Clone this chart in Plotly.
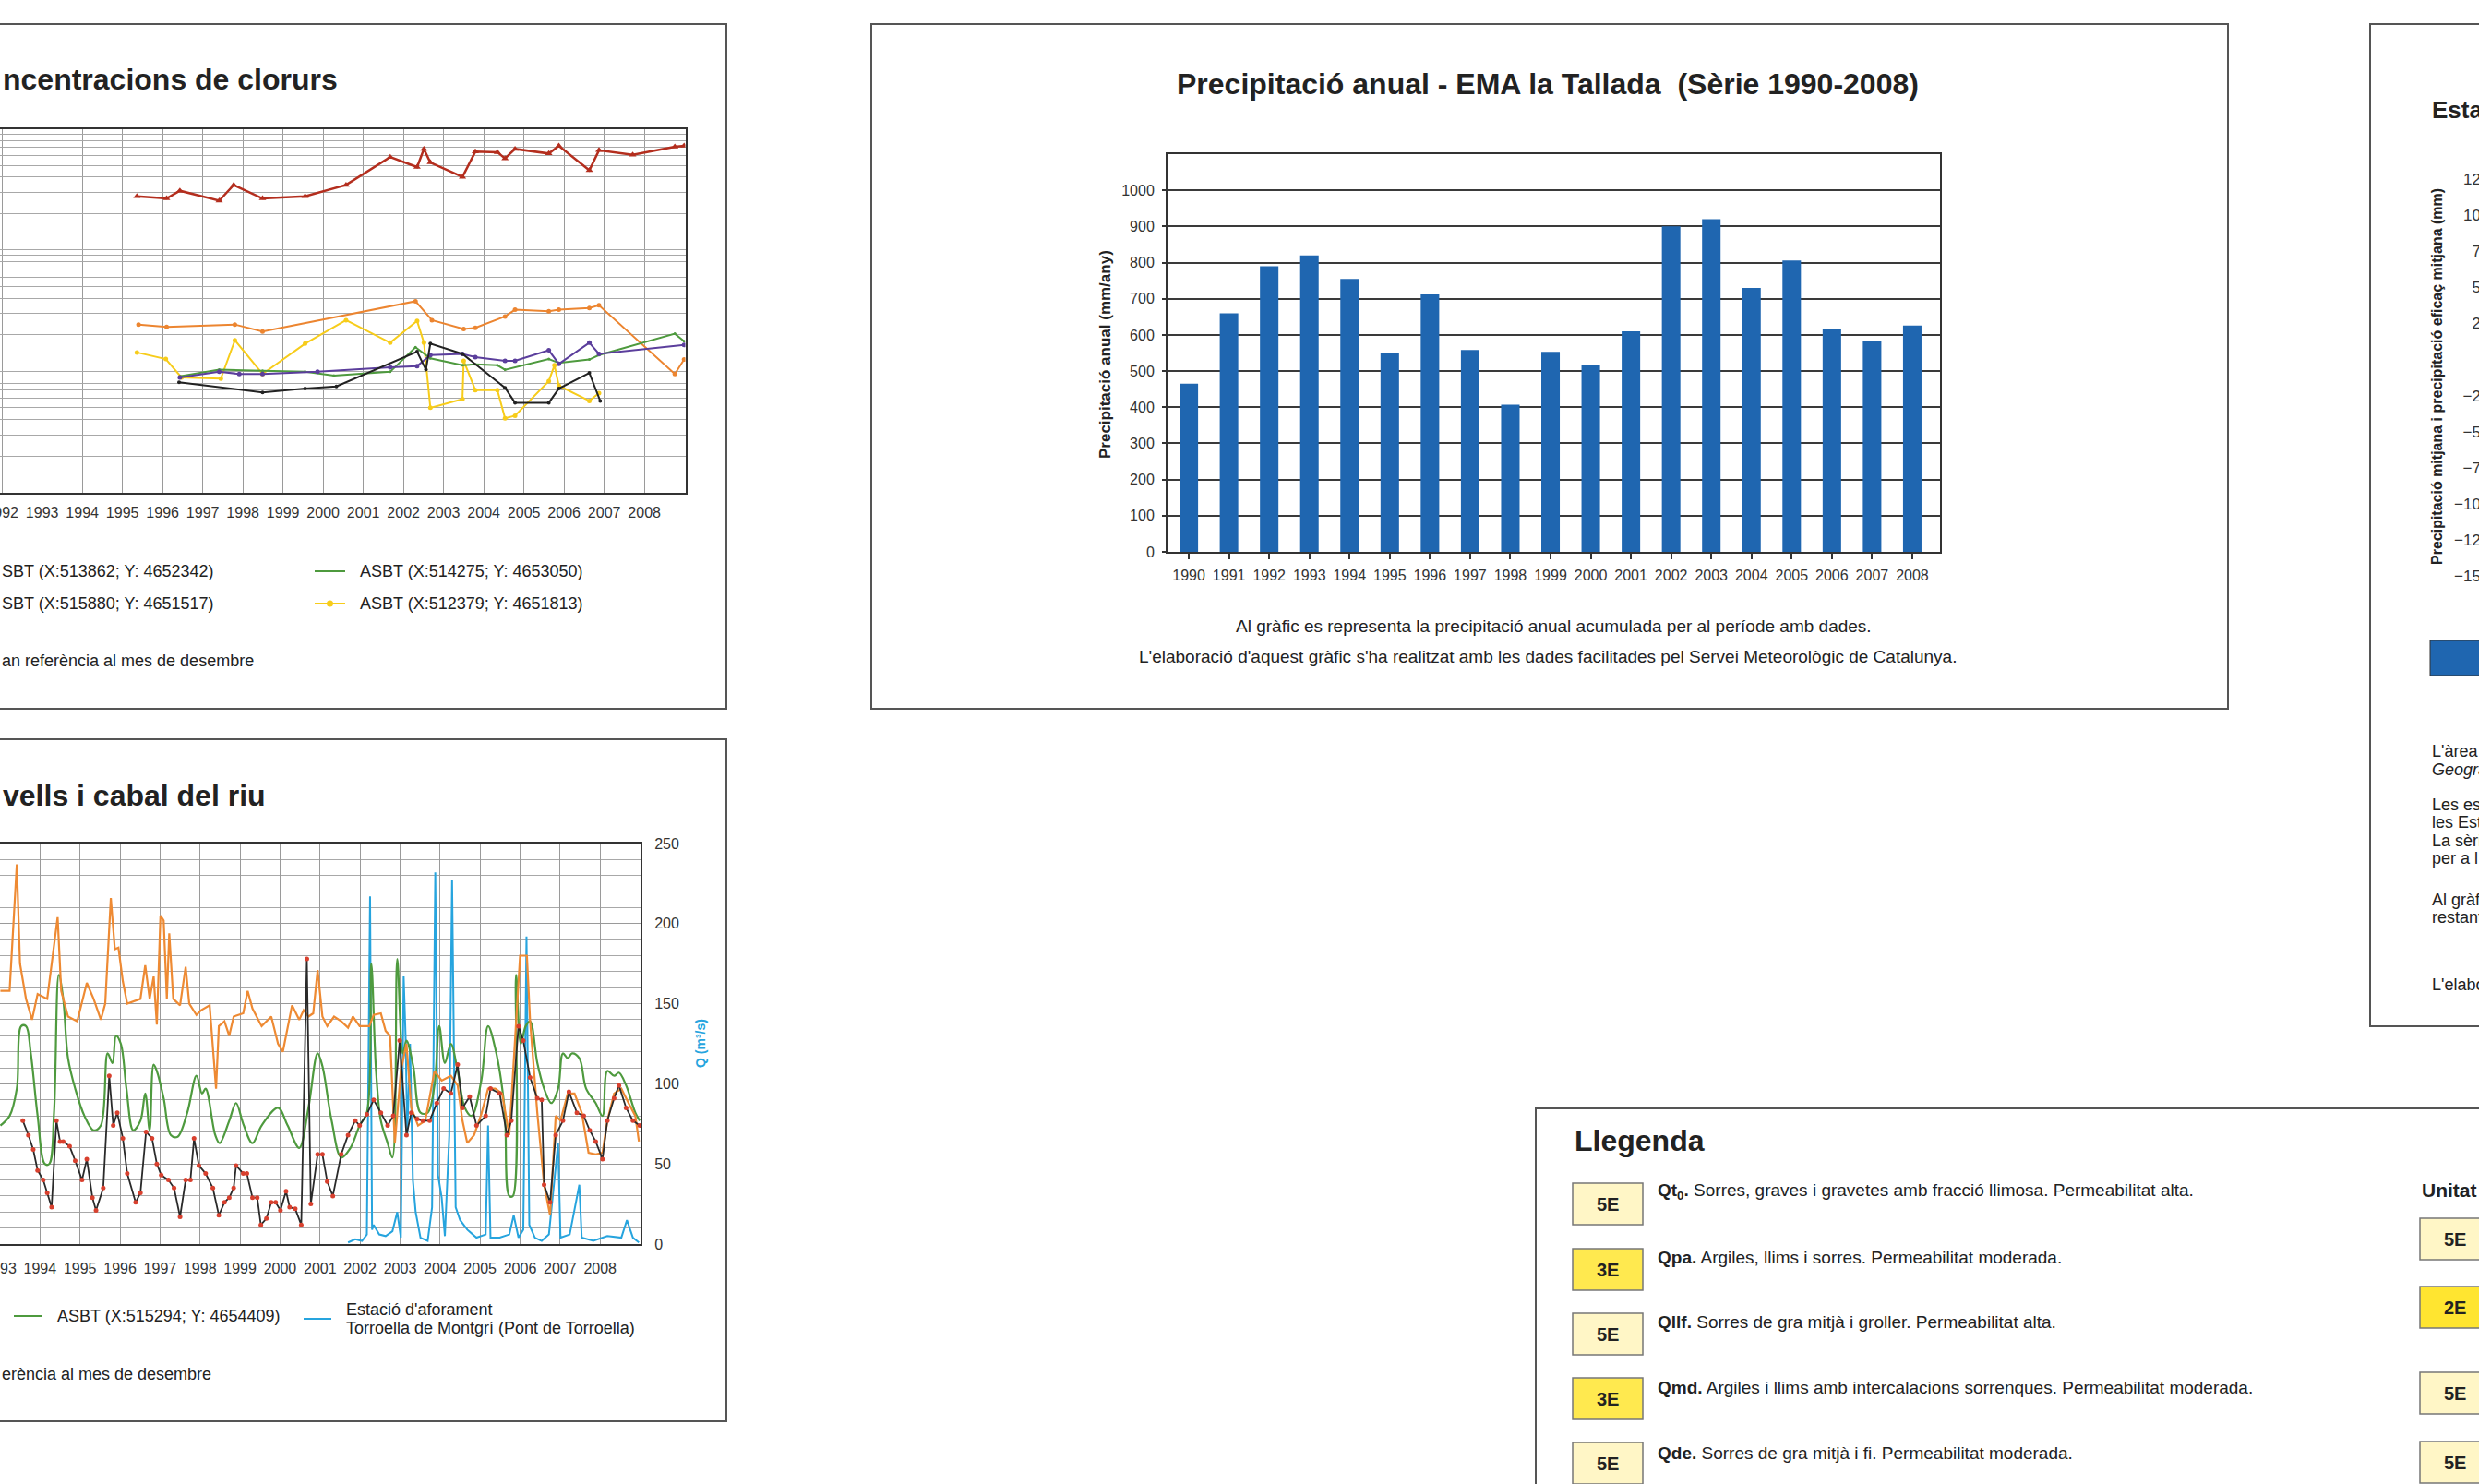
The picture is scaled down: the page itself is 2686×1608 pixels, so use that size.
import math
import plotly.graph_objects as go

W, H = 2686, 1608
FONT = "Liberation Sans, Arial, Helvetica, sans-serif"
TXT = "#222222"

# ---------------- main chart data (annual precipitation) ----------------
years = [str(y) for y in range(1990, 2009)]
precip = [465, 660, 790, 820, 755, 550, 712, 558, 407, 553, 518, 610, 900, 920, 730, 806, 615, 583, 626]
precip_ticks = list(range(0, 1001, 100))

# ---------------- top-left fragment: chloride concentrations (log) -------
cl_red_x = [1995.36, 1996.10, 1996.43, 1997.41, 1997.77, 1998.49, 1999.55, 2000.57, 2001.67, 2002.34, 2002.51, 2002.67,
            2003.47, 2003.79, 2004.34, 2004.53, 2004.78, 2005.62, 2005.87, 2006.63, 2006.87, 2007.71, 2008.76, 2008.99]
cl_red_y = [2770, 2660, 3080, 2550, 3440, 2660, 2770, 3440, 5840, 4830, 6810, 5270,
            4010, 6470, 6410, 5690, 6810, 6250, 7230, 4550, 6640, 6100, 7100, 7230]
cl_or_x = [1995.40, 1996.10, 1997.80, 1998.49, 2002.30, 2002.71, 2003.50, 2003.79, 2004.53, 2004.78, 2005.62, 2005.87,
           2006.63, 2006.87, 2008.76, 2008.99]
cl_or_y = [243, 232, 243, 213, 378, 264, 223, 228, 283, 322, 313, 322, 333, 350, 95, 125]
cl_ye_x = [1995.36, 1996.08, 1996.47, 1997.45, 1997.80, 1998.49, 1999.55, 2000.57, 2001.67, 2002.34, 2002.51, 2002.67,
           2003.47, 2003.50, 2003.79, 2004.34, 2004.53, 2004.78, 2005.62, 2005.76, 2005.87, 2006.63, 2006.87]
cl_ye_y = [143, 126, 89, 87, 180, 95, 169, 264, 172, 260, 172, 50, 59, 122, 70, 70, 41, 43, 83, 112, 76, 57, 66]
cl_gr_x = [1996.43, 1997.41, 1998.49, 1999.55, 2000.27, 2001.67, 2002.30, 2002.67, 2003.47, 2003.79, 2004.34, 2004.53,
           2005.62, 2005.87, 2006.63, 2006.87, 2008.76, 2008.99]
cl_gr_y = [91, 103, 101, 99, 92, 99, 158, 128, 112, 114, 112, 103, 126, 117, 125, 136, 204, 177]
cl_pu_x = [1996.43, 1997.41, 1997.91, 1998.49, 1999.86, 2001.67, 2002.34, 2002.67, 2003.47, 2003.79, 2004.53, 2004.78,
           2005.62, 2005.87, 2006.63, 2006.87, 2008.99]
cl_pu_y = [89, 99, 95, 95, 99, 108, 110, 136, 139, 131, 122, 122, 149, 115, 172, 139, 165]
cl_bk_x = [1996.41, 1998.49, 1999.55, 2000.33, 2002.34, 2002.56, 2002.67, 2003.47, 2004.53, 2004.78, 2005.62, 2005.87,
           2006.63, 2006.90]
cl_bk_y = [81, 67, 72, 75, 145, 103, 169, 139, 73, 55, 55, 72, 97, 57]
cl_year_ticks = list(range(1992, 2009))
cl_grid_vals = [m * 10 ** d for d in range(1, 4) for m in range(1, 10)] + [10000]
cl_major = [100, 1000]
cl_legend = ["SBT (X:513862; Y: 4652342)", "SBT (X:515880; Y: 4651517)",
             "ASBT (X:514275; Y: 4653050)", "ASBT (X:512379; Y: 4651813)"]

# ---------------- bottom-left fragment: levels and river flow ----------------
lv_or_x = [1993.01, 1993.24, 1993.42, 1993.50, 1993.65, 1993.80, 1993.94, 1994.18, 1994.44, 1994.53, 1994.70, 1994.93,
           1995.17, 1995.34, 1995.52, 1995.63, 1995.77, 1995.87, 1995.96, 1996.07, 1996.18, 1996.51, 1996.63, 1996.74,
           1996.84, 1996.92, 1997.01, 1997.09, 1997.17, 1997.23, 1997.33, 1997.50, 1997.64, 1997.73, 1997.91, 1998.03,
           1998.24, 1998.40, 1998.47, 1998.61, 1998.73, 1998.84, 1999.08, 1999.19, 1999.31, 1999.54, 1999.78, 1999.95,
           2000.07, 2000.15, 2000.30, 2000.48, 2000.59, 2000.71, 2000.83, 2000.94, 2001.06, 2001.18, 2001.35, 2001.53,
           2001.70, 2001.82, 2001.99, 2002.23, 2002.34, 2002.52, 2002.64, 2002.75, 2002.87, 2003.02, 2003.16, 2003.28,
           2003.45, 2003.63, 2003.86, 2004.04, 2004.27, 2004.44, 2004.56, 2004.68, 2004.85, 2005.03, 2005.20, 2005.38,
           2005.55, 2005.73, 2005.90, 2006.00, 2006.17, 2006.25, 2006.43, 2006.60, 2006.75, 2006.89, 2007.01, 2007.19,
           2007.36, 2007.54, 2007.71, 2007.89, 2008.06, 2008.18, 2008.35, 2008.53, 2008.71, 2008.88, 2008.97]
lv_or_y = [158, 158, 237, 175, 153, 140, 156, 153, 204, 158, 142, 139,
           163, 153, 140, 150, 216, 184, 185, 164, 150, 153, 174, 153,
           167, 137, 205, 202, 153, 194, 153, 149, 173, 150, 143, 146,
           149, 97, 136, 139, 130, 142, 144, 158, 147, 136, 142, 125,
           120, 130, 149, 140, 146, 142, 144, 171, 142, 136, 142, 139,
           135, 142, 136, 136, 143, 144, 133, 130, 63, 108, 125, 85,
           74, 77, 108, 102, 105, 99, 77, 63, 68, 81, 97, 97,
           94, 68, 136, 180, 180, 139, 82, 37, 18, 80, 77, 94,
           94, 82, 57, 56, 57, 77, 94, 97, 88, 80, 64]
lv_gr_x = [1993.01, 1993.24, 1993.42, 1993.53, 1993.65, 1993.77, 1993.94, 1994.12, 1994.23, 1994.35, 1994.47, 1994.58,
           1994.70, 1994.88, 1995.11, 1995.34, 1995.52, 1995.69, 1995.81, 1995.90, 1996.02, 1996.16, 1996.33, 1996.51,
           1996.63, 1996.74, 1996.84, 1996.92, 1997.09, 1997.27, 1997.44, 1997.68, 1997.91, 1998.05, 1998.14, 1998.38,
           1998.49, 1998.73, 1998.90, 1999.08, 1999.31, 1999.54, 1999.95, 2000.19, 2000.48, 2000.71, 2000.94, 2001.06,
           2001.29, 2001.53, 2001.76, 2001.99, 2002.17, 2002.28, 2002.40, 2002.52, 2002.69, 2002.81, 2002.93, 2003.07,
           2003.16, 2003.33, 2003.51, 2003.69, 2003.86, 2003.98, 2004.12, 2004.27, 2004.44, 2004.62, 2004.79, 2005.03,
           2005.20, 2005.38, 2005.61, 2005.73, 2005.82, 2005.90, 2006.02, 2006.14, 2006.25, 2006.43, 2006.60, 2006.78,
           2006.95, 2007.07, 2007.19, 2007.30, 2007.48, 2007.65, 2007.89, 2008.06, 2008.18, 2008.35, 2008.47, 2008.65,
           2008.88, 2008.99]
lv_gr_y = [74, 80, 97, 136, 136, 119, 80, 50, 50, 82, 168, 153,
           116, 97, 80, 71, 74, 119, 113, 130, 125, 97, 71, 77,
           94, 71, 112, 108, 91, 68, 67, 82, 105, 94, 97, 68,
           63, 77, 88, 75, 63, 74, 85, 74, 60, 85, 119, 111,
           77, 54, 60, 74, 82, 175, 108, 77, 63, 54, 178, 119,
           127, 111, 82, 82, 99, 136, 113, 125, 108, 85, 80, 102,
           136, 122, 85, 30, 30, 168, 125, 136, 139, 113, 97, 88,
           97, 119, 116, 119, 116, 97, 88, 80, 108, 105, 107, 99,
           82, 77]
lv_bk_x = [1993.57, 1993.71, 1993.83, 1993.94, 1994.08, 1994.18, 1994.29, 1994.41, 1994.50, 1994.58, 1994.74, 1994.88,
           1995.05, 1995.17, 1995.31, 1995.40, 1995.58, 1995.73, 1995.83, 1995.93, 1996.07, 1996.18, 1996.39, 1996.51,
           1996.65, 1996.80, 1996.92, 1997.03, 1997.21, 1997.35, 1997.50, 1997.64, 1997.76, 1997.85, 1997.97, 1998.14,
           1998.32, 1998.47, 1998.61, 1998.73, 1998.84, 1998.90, 1999.08, 1999.17, 1999.31, 1999.43, 1999.52, 1999.66,
           1999.78, 1999.89, 2000.01, 2000.15, 2000.24, 2000.38, 2000.53, 2000.67, 2000.77, 2000.94, 2001.06, 2001.18,
           2001.32, 2001.53, 2001.70, 2001.88, 2001.99, 2002.17, 2002.34, 2002.52, 2002.69, 2002.83, 2002.99, 2003.16,
           2003.28, 2003.43, 2003.57, 2003.74, 2003.92, 2004.09, 2004.27, 2004.44, 2004.56, 2004.74, 2004.91, 2005.14,
           2005.26, 2005.49, 2005.67, 2005.78, 2005.96, 2006.08, 2006.25, 2006.43, 2006.54, 2006.60, 2006.75, 2006.89,
           2007.07, 2007.22, 2007.42, 2007.59, 2007.74, 2007.89, 2008.06, 2008.18, 2008.35, 2008.47, 2008.65, 2008.82,
           2008.99]
lv_bk_y = [77, 68, 59, 46, 40, 32, 23, 77, 64, 64, 61, 52,
           40, 53, 29, 21, 35, 105, 74, 82, 66, 44, 26, 32,
           70, 66, 50, 43, 40, 35, 17, 40, 40, 66, 49, 44,
           35, 18, 26, 29, 35, 49, 44, 44, 29, 29, 12, 16,
           26, 26, 21, 33, 23, 22, 12, 178, 25, 56, 56, 39,
           30, 56, 68, 77, 74, 81, 90, 82, 74, 80, 127, 68,
           82, 78, 77, 77, 88, 97, 94, 112, 85, 92, 74, 80,
           97, 94, 68, 77, 136, 127, 104, 91, 90, 37, 26, 68,
           77, 95, 82, 80, 71, 64, 53, 77, 91, 99, 85, 77,
           74]
q_x = [2001.70, 2001.88, 2002.05, 2002.17, 2002.25, 2002.30, 2002.34, 2002.48, 2002.64, 2002.81, 2002.93, 2003.02,
       2003.09, 2003.14, 2003.18, 2003.25, 2003.32, 2003.39, 2003.51, 2003.69, 2003.80, 2003.88, 2003.95, 2004.04,
       2004.12, 2004.23, 2004.30, 2004.39, 2004.50, 2004.68, 2004.91, 2005.14, 2005.20, 2005.26, 2005.49, 2005.73,
       2005.84, 2005.96, 2006.08, 2006.16, 2006.23, 2006.37, 2006.54, 2006.72, 2006.95, 2007.01, 2007.24, 2007.48,
       2007.54, 2007.83, 2008.18, 2008.53, 2008.67, 2008.82, 2008.97]
q_y = [1, 3, 2, 6, 217, 9, 12, 6, 5, 8, 20, 4,
       167, 128, 68, 125, 40, 20, 4, 2, 23, 232, 43, 29,
       5, 68, 227, 23, 15, 9, 4, 6, 74, 4, 4, 6,
       18, 4, 9, 192, 12, 4, 2, 6, 63, 4, 6, 37,
       4, 2, 5, 4, 15, 4, 1]
q_ticks = [0, 50, 100, 150, 200, 250]
lv_year_ticks = list(range(1993, 2009))

# ---------------- right fragment ----------------
r_ticks = [125, 100, 75, 50, 25, 0, -25, -50, -75, -100, -125, -150]
r_texts = ["L'àrea", "Geogra", "Les es", "les Est", "La sèri", "per a l", "Al gràf", "restant", "L'elabo"]

# ---------------- legend panel ----------------
leg_codes = ["5E", "3E", "5E", "3E", "5E"]
leg_bold = ["Qt<sub>0</sub>.", "Qpa.", "Qllf.", "Qmd.", "Qde."]
leg_desc = ["Sorres, graves i gravetes amb fracció llimosa. Permeabilitat alta.",
            "Argiles, llims i sorres. Permeabilitat moderada.",
            "Sorres de gra mitjà i groller. Permeabilitat alta.",
            "Argiles i llims amb intercalacions sorrenques. Permeabilitat moderada.",
            "Sorres de gra mitjà i fi. Permeabilitat moderada."]
unit_codes = ["5E", "2E", "5E", "5E"]
CODE_FILL = {"5E": "#FFF6C6", "3E": "#FFE94F", "2E": "#FFE530"}


def fx(px):
    return px / W


def fy(py):
    return 1 - py / H


fig = go.Figure()

fig.add_trace(go.Bar(x=years, y=precip, width=0.46, marker=dict(color="#1F66B0", line=dict(width=0)),
                     xaxis="x", yaxis="y", hoverinfo="x+y"))


def cl_trace(x, y, color, symbol, msize, lw=2):
    return go.Scatter(x=x, y=y, mode="lines+markers", line=dict(color=color, width=lw),
                      marker=dict(color=color, symbol=symbol, size=msize), xaxis="x2", yaxis="y2")


fig.add_trace(cl_trace(cl_or_x, cl_or_y, "#EC8530", "circle", 5))
fig.add_trace(cl_trace(cl_ye_x, cl_ye_y, "#F7CC1A", "circle", 5))
fig.add_trace(cl_trace(cl_gr_x, cl_gr_y, "#4E9A3E", "circle", 3))
fig.add_trace(cl_trace(cl_pu_x, cl_pu_y, "#5B3E9C", "circle", 5))
fig.add_trace(cl_trace(cl_bk_x, cl_bk_y, "#222222", "circle", 4))
fig.add_trace(cl_trace(cl_red_x, cl_red_y, "#B42E1E", "triangle-up", 7, 2.5))

fig.add_trace(go.Scatter(x=q_x, y=q_y, mode="lines", line=dict(color="#26A4DE", width=2), xaxis="x3", yaxis="y3"))
fig.add_trace(go.Scatter(x=lv_gr_x, y=lv_gr_y, mode="lines", line=dict(color="#4E9A3E", width=2.2, shape="spline"),
                         xaxis="x3", yaxis="y3"))
fig.add_trace(go.Scatter(x=lv_or_x, y=lv_or_y, mode="lines", line=dict(color="#EE8A33", width=2.2),
                         xaxis="x3", yaxis="y3"))
fig.add_trace(go.Scatter(x=lv_bk_x, y=lv_bk_y, mode="lines+markers", line=dict(color="#2A2A2A", width=1.8),
                         marker=dict(color="#D8402E", size=5), xaxis="x3", yaxis="y3"))

fig.add_trace(go.Scatter(x=[0.5], y=[0], mode="markers", marker=dict(size=1, color="rgba(0,0,0,0)"),
                         xaxis="x4", yaxis="y4", hoverinfo="skip"))

tickfont = dict(family=FONT, size=16, color="#333333")

fig.update_layout(
    width=W, height=H, margin=dict(l=0, r=0, t=0, b=0, autoexpand=False),
    paper_bgcolor="white", plot_bgcolor="white", showlegend=False,
    font=dict(family=FONT, color=TXT),
    xaxis=dict(domain=[fx(1265), fx(2102)], anchor="y", type="category", range=[-0.53, 18.69], automargin=False,
               showline=True, linecolor="#333", linewidth=2, mirror=True, showgrid=False,
               ticks="outside", ticklen=6, tickwidth=1.5, tickcolor="#333", tickfont=tickfont,
               ticklabelstandoff=4, fixedrange=True),
    yaxis=dict(domain=[fy(598), fy(167)], anchor="x", range=[0, 1100], tickvals=precip_ticks, automargin=False,
               showline=True, linecolor="#333", linewidth=2, mirror=True,
               showgrid=True, gridcolor="#3a3a3a", gridwidth=2, zeroline=False,
               ticks="outside", ticklen=4, tickwidth=2, tickcolor="#333", tickfont=tickfont,
               ticklabelstandoff=5, fixedrange=True),
    xaxis2=dict(domain=[0, fx(742.5)], anchor="y2", range=[1991.95, 2009.02], tickvals=cl_year_ticks,
                automargin=False, showline=True, linecolor="#333", linewidth=2, mirror=True,
                showgrid=True, gridcolor="#9a9a9a", gridwidth=1, zeroline=False, ticks="",
                tickfont=tickfont, ticklabelstandoff=6, ticklabeloverflow="allow", fixedrange=True),
    yaxis2=dict(domain=[fy(533.7), fy(139.5)], anchor="x2", type="log", range=[1, 4], tickvals=cl_grid_vals,
                automargin=False, showticklabels=False, showline=True, linecolor="#333", linewidth=2, mirror=True,
                showgrid=True, gridcolor="#a8a8a8", gridwidth=1, ticks="", fixedrange=True),
    xaxis3=dict(domain=[0, fx(694)], anchor="y3", range=[1993.0, 2009.01], tickvals=lv_year_ticks,
                automargin=False, showline=True, linecolor="#333", linewidth=2, mirror=True,
                showgrid=True, gridcolor="#9a9a9a", gridwidth=1, zeroline=False, ticks="",
                tickfont=tickfont, ticklabelstandoff=11, ticklabeloverflow="allow", fixedrange=True),
    yaxis3=dict(domain=[fy(1348), fy(914)], anchor="x3", side="right", range=[0, 250], tickvals=q_ticks,
                automargin=False, showline=True, linecolor="#333", linewidth=2, mirror=True,
                showgrid=True, gridcolor="#9a9a9a", gridwidth=1, zeroline=False, ticks="",
                minor=dict(dtick=10, showgrid=True, gridcolor="#a8a8a8", gridwidth=1),
                tickfont=tickfont, ticklabelstandoff=10, fixedrange=True),
    xaxis4=dict(domain=[0.9994, 1.0], anchor="y4", range=[0, 1], visible=False, automargin=False, fixedrange=True),
    yaxis4=dict(domain=[fy(624), fy(194)], anchor="x4", range=[-150, 125], tickvals=r_ticks, automargin=False,
                showgrid=False, showline=False, zeroline=False, ticks="",
                tickfont=dict(family=FONT, size=17, color="#333"), ticklabelstandoff=-14,
                ticklabeloverflow="allow", fixedrange=True),
)

shapes = []
LC = "#555555"


def frame(x0, y0, x1, y1):
    shapes.append(dict(type="rect", xref="paper", yref="paper", x0=fx(x0), x1=fx(x1), y0=fy(y0), y1=fy(y1),
                       line=dict(color=LC, width=2), fillcolor="rgba(0,0,0,0)", layer="below"))


frame(-20, 26, 787, 768)
frame(-20, 801, 787, 1540)
frame(944, 26, 2414, 768)
frame(2568, 26, 2720, 1112)
frame(1664, 1201, 2720, 1640)

for v in cl_major:
    shapes.append(dict(type="line", xref="x2 domain", yref="y2", x0=0, x1=1, y0=math.log10(v), y1=math.log10(v),
                       line=dict(color="#333", width=2), layer="below"))


def seg(x0, x1, y, color, w=2):
    shapes.append(dict(type="line", xref="paper", yref="paper", x0=fx(x0), x1=fx(x1), y0=fy(y), y1=fy(y),
                       line=dict(color=color, width=w)))


seg(341, 374, 619, "#4E9A3E")
seg(341, 374, 654, "#F7CC1A")
shapes.append(dict(type="circle", xref="paper", yref="paper", x0=fx(354), x1=fx(361), y0=fy(650.5), y1=fy(657.5),
                   fillcolor="#F7CC1A", line=dict(width=0)))
seg(15, 46, 1426, "#4E9A3E")
seg(329, 359, 1429, "#26A4DE")

shapes.append(dict(type="rect", xref="paper", yref="paper", x0=fx(2633), x1=fx(2700), y0=fy(732), y1=fy(694),
                   fillcolor="#1F66B0", line=dict(color="#333", width=1)))

row_tops = [1282, 1353, 1423, 1493, 1563]
for code, top in zip(leg_codes, row_tops):
    shapes.append(dict(type="rect", xref="paper", yref="paper", x0=fx(1704), x1=fx(1780), y0=fy(top + 45), y1=fy(top),
                       fillcolor=CODE_FILL[code], line=dict(color="#777", width=1.5)))
unit_tops = [1320, 1394, 1487, 1562]
for code, top in zip(unit_codes, unit_tops):
    shapes.append(dict(type="rect", xref="paper", yref="paper", x0=fx(2622), x1=fx(2710), y0=fy(top + 45), y1=fy(top),
                       fillcolor=CODE_FILL[code], line=dict(color="#777", width=1.5)))

annotations = []


def ann(x, y, text, size, color=TXT, bold=False, xanchor="left", angle=0, italic=False):
    t = text
    if bold:
        t = "<b>" + t + "</b>"
    if italic:
        t = "<i>" + t + "</i>"
    annotations.append(dict(xref="paper", yref="paper", x=fx(x), y=fy(y), text=t, showarrow=False,
                            xanchor=xanchor, yanchor="middle", textangle=angle,
                            font=dict(family=FONT, size=size, color=color)))


ann(1677, 91, "Precipitació anual - EMA la Tallada  (Sèrie 1990-2008)", 32, bold=True, xanchor="center")
ann(1197, 384, "Precipitació anual (mm/any)", 17, bold=True, xanchor="center", angle=-90)
ann(1683, 679, "Al gràfic es representa la precipitació anual acumulada per al període amb dades.", 19, xanchor="center")
ann(1677, 711, "L'elaboració d'aquest gràfic s'ha realitzat amb les dades facilitades pel Servei Meteorològic de Catalunya.",
    19, xanchor="center")

ann(1, 86, "ncentracions de clorurs", 32, bold=True)
ann(0, 619, cl_legend[0], 18)
ann(0, 654, cl_legend[1], 18)
ann(388, 619, cl_legend[2], 18)
ann(388, 654, cl_legend[3], 18)
ann(0, 716, "an referència al mes de desembre", 18)

ann(1, 862, "vells i cabal del riu", 32, bold=True)
ann(60, 1426, "ASBT (X:515294; Y: 4654409)", 18)
ann(373, 1419, "Estació d'aforament", 18)
ann(373, 1439, "Torroella de Montgrí (Pont de Torroella)", 18)
ann(759, 1131, "Q (m³/s)", 14, color="#26A4DE", bold=True, xanchor="center", angle=-90)
ann(0, 1489, "erència al mes de desembre", 18)

ann(2633, 119, "Esta", 26, bold=True)
ann(2640, 408, "Precipitació mitjana i precipitació eficaç mitjana (mm)", 16, bold=True, xanchor="center", angle=-90)
r_ys = [814, 834, 872, 891, 911, 930, 975, 994, 1067]
for t, yy in zip(r_texts, r_ys):
    ann(2633, yy, t, 18, italic=(t == "Geogra"))

ann(1704, 1236, "Llegenda", 32, bold=True)
text_ys = [1291, 1362, 1432, 1503, 1574]
for code, top, b, d, ty in zip(leg_codes, row_tops, leg_bold, leg_desc, text_ys):
    ann(1742, top + 23, code, 20, bold=True, xanchor="center")
    ann(1794, ty, "<b>" + b + "</b> " + d, 19)
ann(2622, 1289, "Unitat", 21, bold=True)
for code, top in zip(unit_codes, unit_tops):
    ann(2660, top + 23, code, 20, bold=True, xanchor="center")

fig.update_layout(shapes=shapes, annotations=annotations)

fig.write_html("out.html", config={"displayModeBar": False},
               post_script="document.body.style.margin='0';document.body.style.overflow='hidden';")
